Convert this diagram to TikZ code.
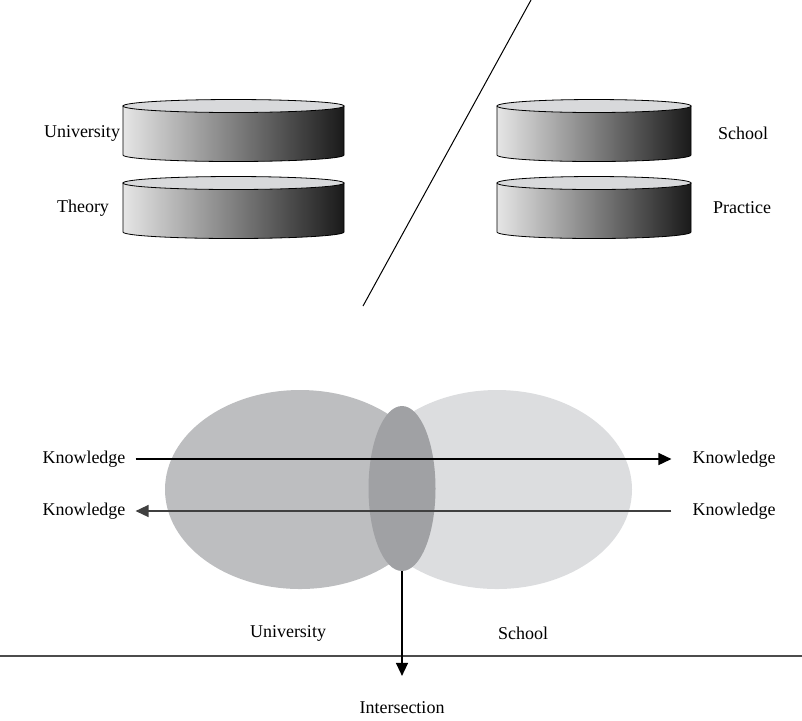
\documentclass[tikz,border=0pt]{standalone}
\usepackage{fontspec}
\setmainfont{Liberation Serif}
\usetikzlibrary{arrows.meta, shapes.geometric}

\definecolor{unigray}{HTML}{BDBEC0}
\definecolor{schgray}{HTML}{DCDDDF}
\definecolor{intgray}{HTML}{A0A1A4}
\definecolor{disctop}{HTML}{D8D9DB}

% disc: left x, right x, top y
\newcommand{\disc}[3]{%
  \shade[left color=black!10, right color=black!90, draw=black, line width=0.4pt]
    (#1,#3) -- (#1,#3+49) arc[start angle=180, end angle=0, x radius={(#2-#1)/2}, y radius=6.5] -- (#2,#3) -- cycle;
  \filldraw[fill=disctop, line width=0.4pt] ({(#1+#2)/2},#3) ellipse[x radius={(#2-#1)/2}, y radius=6.5];
}

\begin{document}
\begin{tikzpicture}[x=0.5pt, y=-0.5pt, font=\fontsize{9}{11}\selectfont,
    arr/.style={-{Triangle[length=6.5pt, width=6pt]}, line width=0.7pt},
    blob/.style={ellipse, inner sep=0pt}]
		\useasboundingbox (0,0) rectangle (802,720);
		%%%%%%%%%%%%%
		\coordinate (s1) at (531,0);
		\coordinate (s2) at (363,306);
		\draw[line width=0.5pt] (s1) -- (s2);
		\disc{123}{344}{106} \disc{123}{344}{183}
		\disc{497}{691}{106} \disc{497}{691}{183}
		\node (uni) at (82,133) {University};
		\node (theo) at (83,208) {Theory};
		\node (sch) at (743,133) {School};
		\node (prac) at (742,208) {Practice};
		%%%%%%%%%%%%%
		\node[blob, fill=schgray, minimum width=135pt, minimum height=99.5pt] (school) at (497,489.5) {};
		\node[blob, fill=unigray, minimum width=135pt, minimum height=99.5pt] (univ) at (300,489.5) {};
		\node[blob, fill=intgray, minimum width=33.5pt, minimum height=82.5pt] (inter) at (402,488.5) {};
		\node (k1) at (84,459) {Knowledge};
		\node (k2) at (734,459) {Knowledge};
		\node (k3) at (84,511) {Knowledge};
		\node (k4) at (734,511) {Knowledge};
		\draw[arr, shorten <=1.5pt, shorten >=7pt] (k1) -- (k2);
		\draw[arr, black!75, shorten <=7pt, shorten >=1.5pt] (k4) -- (k3);
		%%%%%%%%%%%%%
		\node (lu) at (288,633) {University};
		\node (ls) at (523,633) {School};
		\node (isec) at (402,708) {Intersection};
		\coordinate (h1) at (0,656);
		\coordinate (h2) at (802,656);
		\draw[line width=0.7pt, black!70] (h1) -- (h2);
		\draw[arr, shorten >=9.5pt] (inter.south) -- (isec);
\end{tikzpicture}
\end{document}
